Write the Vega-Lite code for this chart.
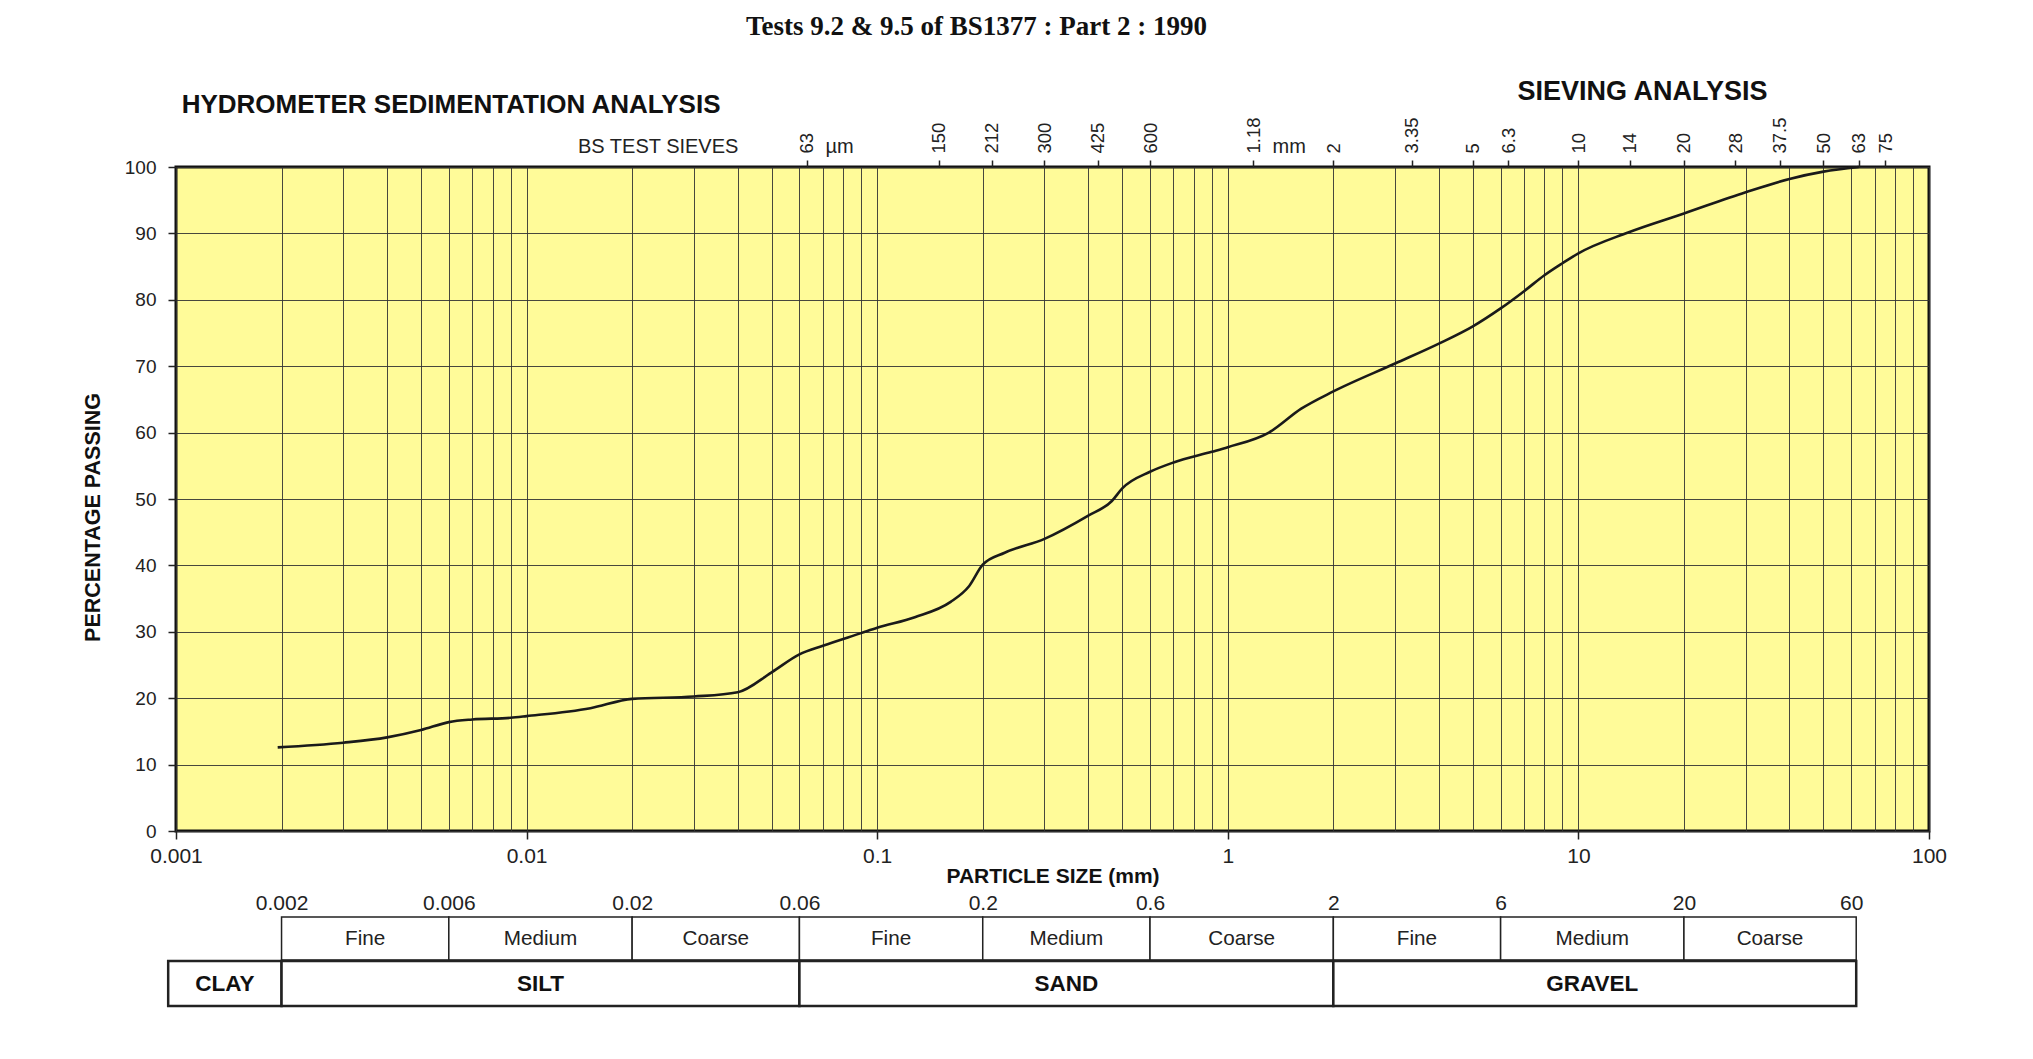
{
  "$schema": "https://vega.github.io/schema/vega-lite/v6.json",
  "background": "white",
  "padding": {"left": 80, "top": 12, "right": 5, "bottom": 5},
  "title": {
    "text": "Tests 9.2 & 9.5 of BS1377 : Part 2 : 1990",
    "font": "Liberation Serif",
    "fontSize": 27,
    "fontWeight": "bold",
    "color": "#111",
    "anchor": "middle",
    "dx": -38,
    "offset": 35
  },
  "datasets": {
    "curve": [
      {"size": 0.00195, "pct": 12.6}, {"size": 0.003, "pct": 13.3}, {"size": 0.004, "pct": 14.1},
      {"size": 0.005, "pct": 15.2}, {"size": 0.006, "pct": 16.4}, {"size": 0.007, "pct": 16.8},
      {"size": 0.009, "pct": 17.05}, {"size": 0.01, "pct": 17.3}, {"size": 0.0152, "pct": 18.5},
      {"size": 0.02, "pct": 19.9}, {"size": 0.03, "pct": 20.25}, {"size": 0.04, "pct": 20.9},
      {"size": 0.05, "pct": 23.9}, {"size": 0.06, "pct": 26.6}, {"size": 0.07, "pct": 27.9},
      {"size": 0.09, "pct": 29.8}, {"size": 0.1, "pct": 30.6}, {"size": 0.128, "pct": 32.2},
      {"size": 0.162, "pct": 34.5}, {"size": 0.183, "pct": 36.9}, {"size": 0.2, "pct": 40.1},
      {"size": 0.231, "pct": 41.9}, {"size": 0.3, "pct": 44.0}, {"size": 0.4, "pct": 47.5},
      {"size": 0.467, "pct": 49.7}, {"size": 0.5, "pct": 51.6}, {"size": 0.6, "pct": 54.1},
      {"size": 0.7, "pct": 55.5}, {"size": 0.9, "pct": 57.1}, {"size": 1.0, "pct": 57.8},
      {"size": 1.31, "pct": 60.0}, {"size": 1.62, "pct": 63.6}, {"size": 2, "pct": 66.2},
      {"size": 3, "pct": 70.4}, {"size": 4, "pct": 73.4}, {"size": 5, "pct": 76.0},
      {"size": 6, "pct": 78.7}, {"size": 7, "pct": 81.3}, {"size": 8, "pct": 83.7},
      {"size": 9, "pct": 85.5}, {"size": 10, "pct": 87.0}, {"size": 13.8, "pct": 90.1},
      {"size": 20, "pct": 93.0}, {"size": 30, "pct": 96.2}, {"size": 40, "pct": 98.2},
      {"size": 50, "pct": 99.3}, {"size": 63, "pct": 100}
    ],
    "sieves": [
      {"sieve": 0.063}, {"sieve": 0.15}, {"sieve": 0.212}, {"sieve": 0.3}, {"sieve": 0.425},
      {"sieve": 0.6}, {"sieve": 1.18}, {"sieve": 2}, {"sieve": 3.35}, {"sieve": 5},
      {"sieve": 6.3}, {"sieve": 10}, {"sieve": 14}, {"sieve": 20}, {"sieve": 28},
      {"sieve": 37.5}, {"sieve": 50}, {"sieve": 63}, {"sieve": 75}
    ],
    "subrow": [
      {"lo": 0.002, "hi": 0.006, "mid": 0.003464, "label": "Fine"},
      {"lo": 0.006, "hi": 0.02, "mid": 0.010954, "label": "Medium"},
      {"lo": 0.02, "hi": 0.06, "mid": 0.034641, "label": "Coarse"},
      {"lo": 0.06, "hi": 0.2, "mid": 0.109545, "label": "Fine"},
      {"lo": 0.2, "hi": 0.6, "mid": 0.34641, "label": "Medium"},
      {"lo": 0.6, "hi": 2, "mid": 1.095445, "label": "Coarse"},
      {"lo": 2, "hi": 6, "mid": 3.4641, "label": "Fine"},
      {"lo": 6, "hi": 20, "mid": 10.954, "label": "Medium"},
      {"lo": 20, "hi": 62, "mid": 35.2, "label": "Coarse"}
    ],
    "mainrow": [
      {"lo": 0.00095, "hi": 0.002, "mid": 0.001378, "label": "CLAY"},
      {"lo": 0.002, "hi": 0.06, "mid": 0.010954, "label": "SILT"},
      {"lo": 0.06, "hi": 2, "mid": 0.34641, "label": "SAND"},
      {"lo": 2, "hi": 62, "mid": 10.954, "label": "GRAVEL"}
    ]
  },
  "spacing": 4,
  "vconcat": [
    {
      "width": 1753,
      "height": 664,
      "view": {"fill": "#FFFB99", "stroke": "#111", "strokeWidth": 3},
      "layer": [
        {
          "data": {"name": "curve"},
          "mark": {"type": "line", "interpolate": "monotone", "color": "#1a1a1a", "strokeWidth": 2.6},
          "encoding": {
            "x": {
              "field": "size", "type": "quantitative",
              "scale": {"type": "log", "domain": [0.001, 100], "nice": false},
              "axis": {
                "orient": "bottom",
                "values": [0.001,0.002,0.003,0.004,0.005,0.006,0.007,0.008,0.009,0.01,0.02,0.03,0.04,0.05,0.06,0.07,0.08,0.09,0.1,0.2,0.3,0.4,0.5,0.6,0.7,0.8,0.9,1,2,3,4,5,6,7,8,9,10,20,30,40,50,60,70,80,90,100],
                "labelExpr": "abs(log(datum.value)/LN10 - round(log(datum.value)/LN10)) < 0.001 ? format(datum.value, '~g') : ''",
                "tickOpacity": {"condition": {"test": "abs(log(datum.value)/LN10 - round(log(datum.value)/LN10)) < 0.001", "value": 1}, "value": 0},
                "tickSize": 8, "tickWidth": 1.5, "tickColor": "#222",
                "grid": true, "gridColor": "#333", "gridWidth": 1, "gridOpacity": 0.9,
                "domain": false,
                "labelFontSize": 21, "labelPadding": 6, "labelFlush": false, "labelOverlap": false, "labelBound": false,
                "title": "PARTICLE SIZE (mm)", "titleFontSize": 21, "titleFontWeight": "bold", "titlePadding": -1
              }
            },
            "y": {
              "field": "pct", "type": "quantitative",
              "scale": {"domain": [0, 100], "nice": false},
              "axis": {
                "values": [0,5,10,15,20,25,30,35,40,45,50,55,60,65,70,75,80,85,90,95,100],
                "labelExpr": "datum.value % 10 === 0 ? datum.label : ''",
                "tickOpacity": {"condition": {"test": "datum.value % 10 === 0", "value": 1}, "value": 0},
                "tickSize": 8, "tickWidth": 1.5, "tickColor": "#222",
                "grid": true, "gridColor": "#333", "gridWidth": 1, "gridOpacity": 0.9,
                "domain": false,
                "labelFontSize": 19, "labelPadding": 12, "labelOverlap": false,
                "title": "PERCENTAGE PASSING", "titleFontSize": 21.5, "titleFontWeight": "bold", "titlePadding": 20, "titleY": 350
              }
            }
          }
        },
        {
          "data": {"name": "sieves"},
          "mark": {"type": "point", "opacity": 0},
          "encoding": {
            "x": {
              "field": "sieve", "type": "quantitative",
              "scale": {"type": "log", "domain": [0.001, 100], "nice": false},
              "axis": {
                "orient": "top",
                "values": [0.063,0.15,0.212,0.3,0.425,0.6,1.18,2,3.35,5,6.3,10,14,20,28,37.5,50,63,75],
                "labelExpr": "datum.value < 1 ? format(datum.value*1000, 'd') : format(datum.value, '~g')",
                "labelAngle": -90,
                "tickSize": 7, "tickWidth": 1.5, "tickColor": "#222",
                "grid": false, "domain": false,
                "labelFontSize": 18.5, "labelPadding": 7, "labelFlush": false, "labelOverlap": false, "labelBound": false,
                "title": null
              }
            },
            "y": {"datum": 100, "type": "quantitative"}
          }
        },
        {
          "data": {"name": "sieves"},
          "mark": {"type": "point", "opacity": 0},
          "encoding": {
            "x": {
              "field": "sieve", "type": "quantitative",
              "scale": {"type": "log", "domain": [0.001, 100], "nice": false},
              "axis": {
                "orient": "top",
                "values": [0.02365, 0.0778, 1.491],
                "labelExpr": "datum.value < 0.05 ? 'BS TEST SIEVES' : datum.value < 1 ? 'µm' : 'mm'",
                "ticks": false, "grid": false, "domain": false,
                "labelFontSize": 20, "labelPadding": 11, "labelFlush": false, "labelOverlap": false, "labelBound": false, "labelLimit": 1000,
                "title": null
              }
            },
            "y": {"datum": 100, "type": "quantitative"}
          }
        },
        {
          "data": {"name": "sieves"},
          "mark": {"type": "point", "opacity": 0},
          "encoding": {
            "x": {
              "field": "sieve", "type": "quantitative",
              "scale": {"type": "log", "domain": [0.001, 100], "nice": false},
              "axis": {
                "orient": "top",
                "values": [0.00607, 15.19],
                "labelExpr": "datum.value < 1 ? 'HYDROMETER SEDIMENTATION ANALYSIS' : 'SIEVING ANALYSIS'",
                "ticks": false, "grid": false, "domain": false,
                "labelFontSize": {"condition": {"test": "datum.value > 1", "value": 27}, "value": 26},
                "labelFontWeight": "bold", "labelColor": "#111",
                "labelPadding": {"condition": {"test": "datum.value > 1", "value": 62}, "value": 50},
                "labelFlush": false, "labelOverlap": false, "labelBound": false, "labelLimit": 1000,
                "title": null
              }
            },
            "y": {"datum": 100, "type": "quantitative"}
          }
        }
      ],
      "resolve": {"axis": {"x": "independent"}}
    },
    {
      "spacing": -2,
      "vconcat": [
        {
          "width": 1753,
          "height": 43,
          "view": {"stroke": null},
          "data": {"name": "subrow"},
          "layer": [
            {
              "mark": {"type": "rect", "fill": "white", "stroke": "#222", "strokeWidth": 1.5},
              "encoding": {
                "x": {
                  "field": "lo", "type": "quantitative",
                  "scale": {"type": "log", "domain": [0.001, 100], "nice": false},
                  "axis": {
                    "orient": "top",
                    "values": [0.002,0.006,0.02,0.06,0.2,0.6,2,6,20,60],
                    "labelExpr": "format(datum.value, '~g')",
                    "ticks": false, "grid": false, "domain": false,
                    "labelFontSize": 21, "labelPadding": 4, "labelFlush": false, "labelOverlap": false, "labelBound": false,
                    "title": null
                  }
                },
                "x2": {"field": "hi"}
              }
            },
            {
              "mark": {"type": "text", "fontSize": 20.7, "color": "#222"},
              "encoding": {
                "x": {"field": "mid", "type": "quantitative", "scale": {"type": "log", "domain": [0.001, 100], "nice": false}},
                "text": {"field": "label"}
              }
            }
          ]
        },
        {
          "width": 1753,
          "height": 45,
          "view": {"stroke": null},
          "data": {"name": "mainrow"},
          "layer": [
            {
              "mark": {"type": "rect", "fill": "white", "stroke": "#222", "strokeWidth": 2.5},
              "encoding": {
                "x": {
                  "field": "lo", "type": "quantitative",
                  "scale": {"type": "log", "domain": [0.001, 100], "nice": false},
                  "axis": null
                },
                "x2": {"field": "hi"}
              }
            },
            {
              "mark": {"type": "text", "fontSize": 22.5, "fontWeight": "bold", "color": "#111"},
              "encoding": {
                "x": {"field": "mid", "type": "quantitative", "scale": {"type": "log", "domain": [0.001, 100], "nice": false}},
                "text": {"field": "label"}
              }
            }
          ]
        }
      ]
    }
  ],
  "config": {
    "font": "Liberation Sans",
    "axis": {"labelFont": "Liberation Sans", "titleFont": "Liberation Sans", "labelColor": "#222", "titleColor": "#111"},
    "text": {"font": "Liberation Sans"}
  }
}
